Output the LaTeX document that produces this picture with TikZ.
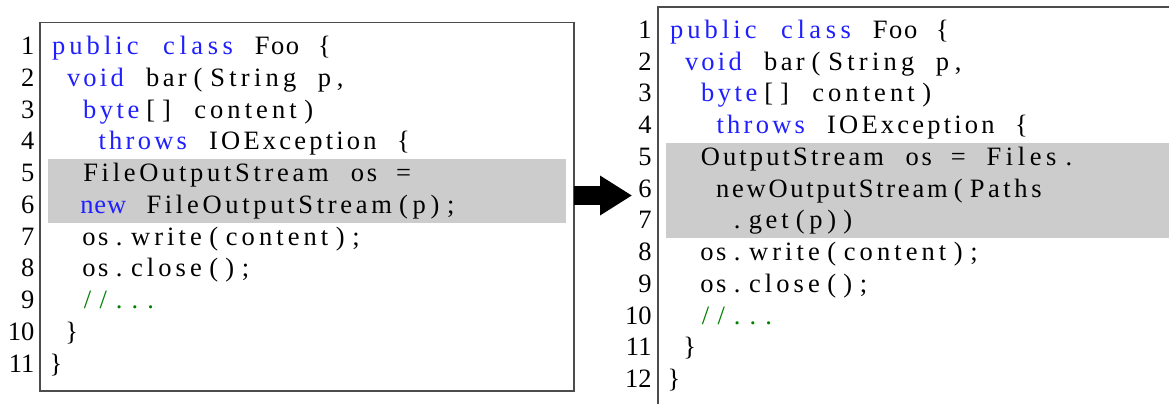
\documentclass[tikz,border=0pt]{standalone}
\usepackage{fontspec}
\setmainfont{Liberation Serif}
\usetikzlibrary{arrows.meta}

\definecolor{kwblue}{rgb}{0.12,0.12,1}
\definecolor{cmgreen}{rgb}{0,0.5,0}
\definecolor{hlgray}{gray}{0.8}
\definecolor{framegray}{gray}{0.3}

% Fixed-column code typesetting: every character takes one column;
% runs of letters/digits are spread over their columns with \hss.
% "_" is an indentation column, "|b", "|k", "|g" switch to blue,
% black and green, "<" and ">" stand for the braces.
\ExplSyntaxOn
\dim_new:N \l_fc_cw_dim
\dim_set:Nn \l_fc_cw_dim { 7.9pt }
\tl_new:N \l_fc_word_tl
\int_new:N \l_fc_len_int
\tl_new:N \l_fc_color_tl
\bool_new:N \l_fc_switch_bool
\str_const:Nn \c_fc_alnum_str
  { abcdefghijklmnopqrstuvwxyzABCDEFGHIJKLMNOPQRSTUVWXYZ0123456789 }

\cs_new_protected:Npn \fc_flush:
  {
    \int_compare:nNnT { \l_fc_len_int } > { 0 }
      {
        \hbox_to_wd:nn { \l_fc_cw_dim * \l_fc_len_int }
          { \exp_args:NV \color \l_fc_color_tl \hss \l_fc_word_tl }
        \tl_clear:N \l_fc_word_tl
        \int_zero:N \l_fc_len_int
      }
  }

\cs_new_protected:Npn \fc_single:n #1
  {
    \hbox_to_wd:nn { \l_fc_cw_dim }
      { \exp_args:NV \color \l_fc_color_tl \hss #1 \hss }
  }

\cs_new_protected:Npn \fc_char:n #1
  {
    \bool_if:NTF \l_fc_switch_bool
      {
        \bool_set_false:N \l_fc_switch_bool
        \str_case:nn { #1 }
          {
            { b } { \tl_set:Nn \l_fc_color_tl { kwblue } }
            { k } { \tl_set:Nn \l_fc_color_tl { black } }
            { g } { \tl_set:Nn \l_fc_color_tl { cmgreen } }
          }
      }
      {
        \str_if_eq:nnTF { #1 } { | }
          { \fc_flush: \bool_set_true:N \l_fc_switch_bool }
          {
            \str_if_in:NnTF \c_fc_alnum_str { #1 }
              {
                \tl_put_right:Nn \l_fc_word_tl { #1 \hss }
                \int_incr:N \l_fc_len_int
              }
              {
                \fc_flush:
                \tl_if_blank:nTF { #1 }
                  { \hbox_to_wd:nn { \l_fc_cw_dim } { } }
                  {
                    \str_case:nnF { #1 }
                      {
                        { _ } { \hbox_to_wd:nn { \l_fc_cw_dim } { } }
                        { < } { \fc_single:n { \textbraceleft } }
                        { > } { \fc_single:n { \textbraceright } }
                      }
                      { \fc_single:n { #1 } }
                  }
              }
          }
      }
  }

\NewDocumentCommand \fcline { m }
  {
    \group_begin:
    \tl_set:Nn \l_fc_color_tl { black }
    \bool_set_false:N \l_fc_switch_bool
    \tl_clear:N \l_fc_word_tl
    \int_zero:N \l_fc_len_int
    \str_map_inline:nn { #1 } { \fc_char:n { ##1 } }
    \fc_flush:
    \group_end:
  }
\ExplSyntaxOff

\tikzset{
  every node/.style={inner sep=0pt, outer sep=0pt,
    font=\fontsize{13.25pt}{15pt}\selectfont},
  code/.style={anchor=base west},
  num/.style={anchor=base east},
  frame/.style={draw=framegray, line width=0.85pt, anchor=north west},
  hl/.style={fill=hlgray},
  bigarrow/.style={line width=9.15pt,
    -{Triangle[length=15.85pt,width=20pt,line width=0pt]}}
}

\begin{document}
\begin{tikzpicture}[x=0.5pt, y=-0.5pt]
\useasboundingbox (0,0) rectangle (1169,403);
\clip (0,0) rectangle (1169,403);

% highlighted statements
\fill[hl] (48,159.3) rectangle (566,222.7);
\fill[hl] (666,142.7) rectangle (1180,238.3);

% frames
\node[frame, minimum width=266.7pt, minimum height=184.1pt] (oldbox) at (40.3,22.5) {};
\node[frame, minimum width=300pt, minimum height=210pt] (newbox) at (657.7,6.7) {};

% original method
\node[num] (na1)  at (34.3,54.5)   {1};
\node[num] (na2)  at (34.3,86.25)  {2};
\node[num] (na3)  at (34.3,118)    {3};
\node[num] (na4)  at (34.3,149.75) {4};
\node[num] (na5)  at (34.3,181.5)  {5};
\node[num] (na6)  at (34.3,213.25) {6};
\node[num] (na7)  at (34.3,245)    {7};
\node[num] (na8)  at (34.3,276.75) {8};
\node[num] (na9)  at (34.3,308.5)  {9};
\node[num] (na10) at (34.3,340.25) {10};
\node[num] (na11) at (34.3,372)    {11};

\node[code] (a1)  at (48,54.5)   {\fcline{|bpublic class|k Foo <}};
\node[code] (a2)  at (48,86.25)  {\fcline{_|bvoid|k bar(String p,}};
\node[code] (a3)  at (48,118)    {\fcline{__|bbyte|k[] content)}};
\node[code] (a4)  at (48,149.75) {\fcline{___|bthrows|k IOException <}};
\node[code] (a5)  at (48,181.5)  {\fcline{__FileOutputStream os =}};
\node[code] (a6)  at (48,213.25) {\fcline{__|bnew|k FileOutputStream(p);}};
\node[code] (a7)  at (48,245)    {\fcline{__os.write(content);}};
\node[code] (a8)  at (48,276.75) {\fcline{__os.close();}};
\node[code] (a9)  at (48,308.5)  {\fcline{__|g//...}};
\node[code] (a10) at (48,340.25) {\fcline{_>}};
\node[code] (a11) at (48,372)    {\fcline{>}};

% rewritten method
\node[num] (nb1)  at (651.5,38.3)   {1};
\node[num] (nb2)  at (651.5,70.05)  {2};
\node[num] (nb3)  at (651.5,101.8)  {3};
\node[num] (nb4)  at (651.5,133.55) {4};
\node[num] (nb5)  at (651.5,165.3)  {5};
\node[num] (nb6)  at (651.5,197.05) {6};
\node[num] (nb7)  at (651.5,228.8)  {7};
\node[num] (nb8)  at (651.5,260.55) {8};
\node[num] (nb9)  at (651.5,292.3)  {9};
\node[num] (nb10) at (651.5,324.05) {10};
\node[num] (nb11) at (651.5,355.8)  {11};
\node[num] (nb12) at (651.5,387.55) {12};

\node[code] (b1)  at (666,38.3)   {\fcline{|bpublic class|k Foo <}};
\node[code] (b2)  at (666,70.05)  {\fcline{_|bvoid|k bar(String p,}};
\node[code] (b3)  at (666,101.8)  {\fcline{__|bbyte|k[] content)}};
\node[code] (b4)  at (666,133.55) {\fcline{___|bthrows|k IOException <}};
\node[code] (b5)  at (666,165.3)  {\fcline{__OutputStream os = Files.}};
\node[code] (b6)  at (666,197.05) {\fcline{___newOutputStream(Paths}};
\node[code] (b7)  at (666,228.8)  {\fcline{____.get(p))}};
\node[code] (b8)  at (666,260.55) {\fcline{__os.write(content);}};
\node[code] (b9)  at (666,292.3)  {\fcline{__os.close();}};
\node[code] (b10) at (666,324.05) {\fcline{__|g//...}};
\node[code] (b11) at (666,355.8)  {\fcline{_>}};
\node[code] (b12) at (666,387.55) {\fcline{>}};

% transformation arrow
\coordinate (tip) at (631.7,195.5);
\draw[bigarrow] (oldbox.east |- tip) -- (tip);
\end{tikzpicture}
\end{document}
